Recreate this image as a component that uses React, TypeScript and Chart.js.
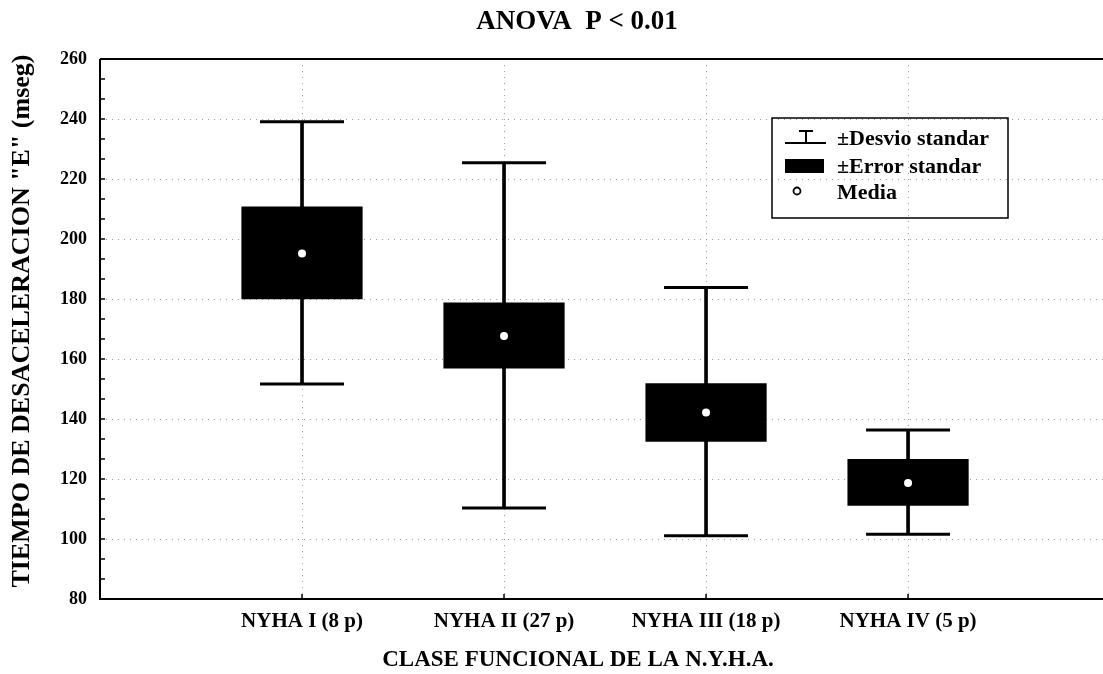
import React, { useEffect, useRef } from "react";
import { Chart, registerables } from "chart.js";

Chart.register(...registerables);

const categories = ["NYHA I (8 p)", "NYHA II (27 p)", "NYHA III (18 p)", "NYHA IV (5 p)"];
const means = [195.2, 167.7, 142.2, 118.7];
const seLow = [179.9, 156.8, 132.4, 111.1];
const seHigh = [210.8, 178.8, 151.9, 126.7];
const sdLow = [151.7, 110.3, 101.1, 101.6];
const sdHigh = [239.1, 225.4, 183.8, 136.3];
const yMin = 80;
const yMax = 260;
const yStep = 20;

const titleText = "ANOVA  P < 0.01";
const xTitleText = "CLASE FUNCIONAL DE LA N.Y.H.A.";
const yTitleText = 'TIEMPO DE DESACELERACION "E" (mseg)';
const legendItems = ["±Desvio standar", "±Error standar", "Media"];

const FONT = "'Liberation Serif', 'DejaVu Serif', serif";

const decor = {
  id: "decor",
  afterDraw(chart: any) {
    const { ctx, chartArea: a, scales } = chart;
    const x = scales.x;
    const y = scales.y;
    ctx.save();
    ctx.strokeStyle = "#000";
    ctx.fillStyle = "#000";
    ctx.lineWidth = 2;
    ctx.beginPath();
    ctx.moveTo(a.left, a.top);
    ctx.lineTo(a.left, a.bottom);
    ctx.lineTo(a.right, a.bottom);
    ctx.moveTo(a.left, a.top);
    ctx.lineTo(a.right, a.top);
    ctx.stroke();

    // minor ticks on y axis
    ctx.lineWidth = 1.5;
    ctx.beginPath();
    const n = Math.round(((yMax - yMin) / yStep) * 3);
    for (let k = 0; k <= n; k++) {
      const v = yMin + (k * yStep) / 3;
      const py = y.getPixelForValue(v);
      ctx.moveTo(a.left, py);
      ctx.lineTo(a.left + 5, py);
    }
    // ticks on x axis at categories
    categories.forEach((_, i) => {
      const px = x.getPixelForValue(i + 1);
      ctx.moveTo(px, a.bottom);
      ctx.lineTo(px, a.bottom - 5);
    });
    ctx.stroke();

    // titles
    ctx.textAlign = "center";
    ctx.textBaseline = "middle";
    ctx.font = `bold 27px ${FONT}`;
    ctx.fillText(titleText, 577, 22);
    ctx.font = `bold 23px ${FONT}`;
    ctx.fillText(xTitleText, 578, 660);
    ctx.save();
    ctx.translate(22, 321);
    ctx.rotate(-Math.PI / 2);
    ctx.font = `bold 26px ${FONT}`;
    ctx.fillText(yTitleText, 0, 0);
    ctx.restore();

    // legend
    const lx = 772, ly = 118, lw = 236, lh = 100;
    ctx.lineWidth = 1.5;
    ctx.strokeRect(lx, ly, lw, lh);
    ctx.lineWidth = 2;
    ctx.beginPath();
    ctx.moveTo(785, 143);
    ctx.lineTo(826, 143);
    ctx.moveTo(806, 143);
    ctx.lineTo(806, 131);
    ctx.moveTo(799, 131);
    ctx.lineTo(813, 131);
    ctx.stroke();
    ctx.fillRect(785, 159, 39, 14);
    ctx.beginPath();
    ctx.arc(797, 191, 3.5, 0, Math.PI * 2);
    ctx.lineWidth = 1.8;
    ctx.stroke();
    ctx.textAlign = "left";
    ctx.font = `bold 22px ${FONT}`;
    ctx.fillText(legendItems[0], 837, 139);
    ctx.fillText(legendItems[1], 837, 167);
    ctx.fillText(legendItems[2], 837, 193);
    ctx.restore();
  },
};

export default function App() {
  const ref = useRef<HTMLCanvasElement | null>(null);
  useEffect(() => {
    if (!ref.current) return;
    const xs = categories.map((_, i) => i + 1);
    const chart = new Chart(ref.current, {
      type: "bar",
      data: {
        datasets: [
          {
            type: "scatter",
            label: "Media",
            order: 0,
            data: xs.map((xv, i) => ({ x: xv, y: means[i] })),
            pointStyle: "circle",
            pointRadius: 4,
            pointBackgroundColor: "#fff",
            pointBorderWidth: 0,
            pointBorderColor: "#fff",
          } as any,
          {
            type: "bar",
            label: "±Error standar",
            order: 1,
            data: xs.map((xv, i) => ({ x: xv, y: [seLow[i], seHigh[i]] })),
            backgroundColor: "#000",
            borderWidth: 0,
            grouped: false,
            barPercentage: 0.6,
            categoryPercentage: 1,
          } as any,
          {
            type: "scatter",
            label: "caps",
            order: 2,
            data: xs.flatMap((xv, i) => [
              { x: xv, y: sdHigh[i] },
              { x: xv, y: sdLow[i] },
            ]),
            pointStyle: "line",
            pointRadius: 42,
            pointBorderWidth: 3,
            pointBorderColor: "#000",
          } as any,
          {
            type: "bar",
            label: "±Desvio standar",
            order: 3,
            data: xs.map((xv, i) => ({ x: xv, y: [sdLow[i], sdHigh[i]] })),
            backgroundColor: "#000",
            borderWidth: 0,
            grouped: false,
            barThickness: 3,
          } as any,
        ],
      },
      options: {
        responsive: false,
        animation: false,
        devicePixelRatio: 1,
        layout: { autoPadding: false, padding: { left: 0, right: 0, top: 59, bottom: 0 } },
        plugins: {
          legend: { display: false },
          tooltip: { enabled: false },
          title: { display: false },
        },
        scales: {
          x: {
            type: "linear",
            min: 0,
            max: 4.965,
            offset: false,
            afterFit: (s: any) => {
              s.height = 75;
              s.paddingLeft = 0;
              s.paddingRight = 0;
            },
            grid: {
              offset: false,
              drawTicks: false,
              color: (c: any) => (c.tick && c.tick.value > 0 ? "#a0a0a0" : "rgba(0,0,0,0)"),
              lineWidth: 1,
            },
            border: { display: false, dash: [1, 5] },
            ticks: {
              stepSize: 1,
              includeBounds: false,
              autoSkip: false,
              maxRotation: 0,
              padding: 10,
              color: "#000",
              font: { family: FONT, size: 21, weight: "bold" },
              callback: (v: any) => categories[Number(v) - 1] ?? "",
            },
          },
          y: {
            type: "linear",
            min: yMin,
            max: yMax,
            beginAtZero: false,
            afterFit: (s: any) => {
              s.width = 100;
              s.paddingTop = 0;
              s.paddingBottom = 0;
            },
            grid: {
              drawTicks: false,
              color: (c: any) =>
                c.tick && c.tick.value > yMin && c.tick.value < yMax ? "#9a9a9a" : "rgba(0,0,0,0)",
              lineWidth: 1,
            },
            border: { display: false, dash: [1, 5] },
            ticks: {
              stepSize: yStep,
              padding: 13,
              color: "#000",
              font: { family: FONT, size: 18, weight: "bold" },
            },
          },
        },
      } as any,
      plugins: [decor],
    });
    return () => chart.destroy();
  }, []);
  return (
    <div style={{ position: "fixed", left: 0, top: 0, width: 1103, height: 674, background: "#fff" }}>
      <canvas ref={ref} width={1103} height={674} style={{ width: 1103, height: 674, display: "block" }} />
    </div>
  );
}
